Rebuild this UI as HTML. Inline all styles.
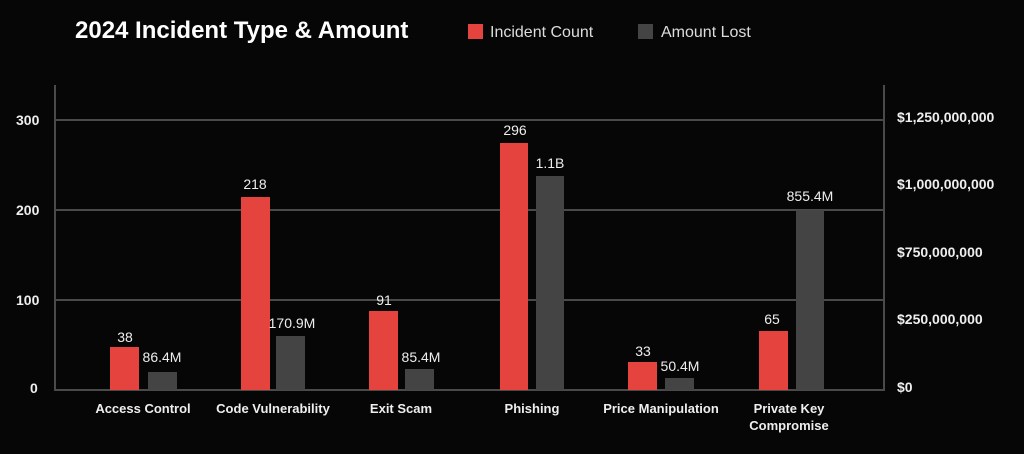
<!DOCTYPE html>
<html><head><style>
html,body{margin:0;padding:0;background:#050505;}
svg{display:block;font-family:"Liberation Sans",sans-serif;}
</style></head><body>
<svg width="1024" height="454" viewBox="0 0 1024 454">
<rect width="1024" height="454" fill="#060606"/>
<text x="75" y="38" fill="#fff" font-size="24" font-weight="bold">2024 Incident Type &amp; Amount</text>
<rect x="468" y="24" width="15" height="15" fill="#e5443e"/>
<text x="490" y="37" fill="#ddd" font-size="16">Incident Count</text>
<rect x="638" y="24" width="15" height="15" fill="#444"/>
<text x="661" y="37" fill="#ddd" font-size="16">Amount Lost</text>
<g stroke="#4a4a4a" stroke-width="2">
<line x1="55" y1="85" x2="55" y2="391"/>
<line x1="884" y1="85" x2="884" y2="391"/>
<line x1="55" y1="120" x2="884" y2="120"/>
<line x1="55" y1="210" x2="884" y2="210"/>
<line x1="55" y1="300" x2="884" y2="300"/>
<line x1="55" y1="390" x2="884" y2="390"/>
</g>
<g fill="#eee" font-size="14" font-weight="bold">
<text x="16" y="125">300</text><text x="16" y="215">200</text><text x="16" y="305">100</text><text x="30" y="393">0</text>
<text x="897" y="122">$1,250,000,000</text><text x="897" y="189">$1,000,000,000</text>
<text x="897" y="257">$750,000,000</text><text x="897" y="324">$250,000,000</text><text x="897" y="392">$0</text>
</g>
<g fill="#e5443e">
<rect x="110" y="347" width="29" height="43"/><rect x="241" y="197" width="29" height="193"/>
<rect x="369" y="311" width="29" height="79"/><rect x="500" y="143" width="28" height="247"/>
<rect x="628" y="362" width="29" height="28"/><rect x="759" y="331" width="29" height="59"/>
</g>
<g fill="#444">
<rect x="148" y="372" width="29" height="18"/><rect x="276" y="336" width="29" height="54"/>
<rect x="405" y="369" width="29" height="21"/><rect x="536" y="176" width="28" height="214"/>
<rect x="665" y="378" width="29" height="12"/><rect x="796" y="210" width="28" height="180"/>
</g>
<g fill="#eee" font-size="14" text-anchor="middle">
<text x="125" y="342">38</text><text x="162" y="362">86.4M</text>
<text x="255" y="189">218</text><text x="292" y="328">170.9M</text>
<text x="384" y="305">91</text><text x="421" y="362">85.4M</text>
<text x="515" y="135">296</text><text x="550" y="168">1.1B</text>
<text x="643" y="356">33</text><text x="680" y="371">50.4M</text>
<text x="772" y="324">65</text><text x="810" y="201">855.4M</text>
</g>
<g fill="#eee" font-size="13" font-weight="bold" text-anchor="middle">
<text x="143" y="413">Access Control</text>
<text x="273" y="413">Code Vulnerability</text>
<text x="401" y="413">Exit Scam</text>
<text x="532" y="413">Phishing</text>
<text x="661" y="413">Price Manipulation</text>
<text x="789" y="413">Private Key</text>
<text x="789" y="430">Compromise</text>
</g>
</svg>
</body></html>
